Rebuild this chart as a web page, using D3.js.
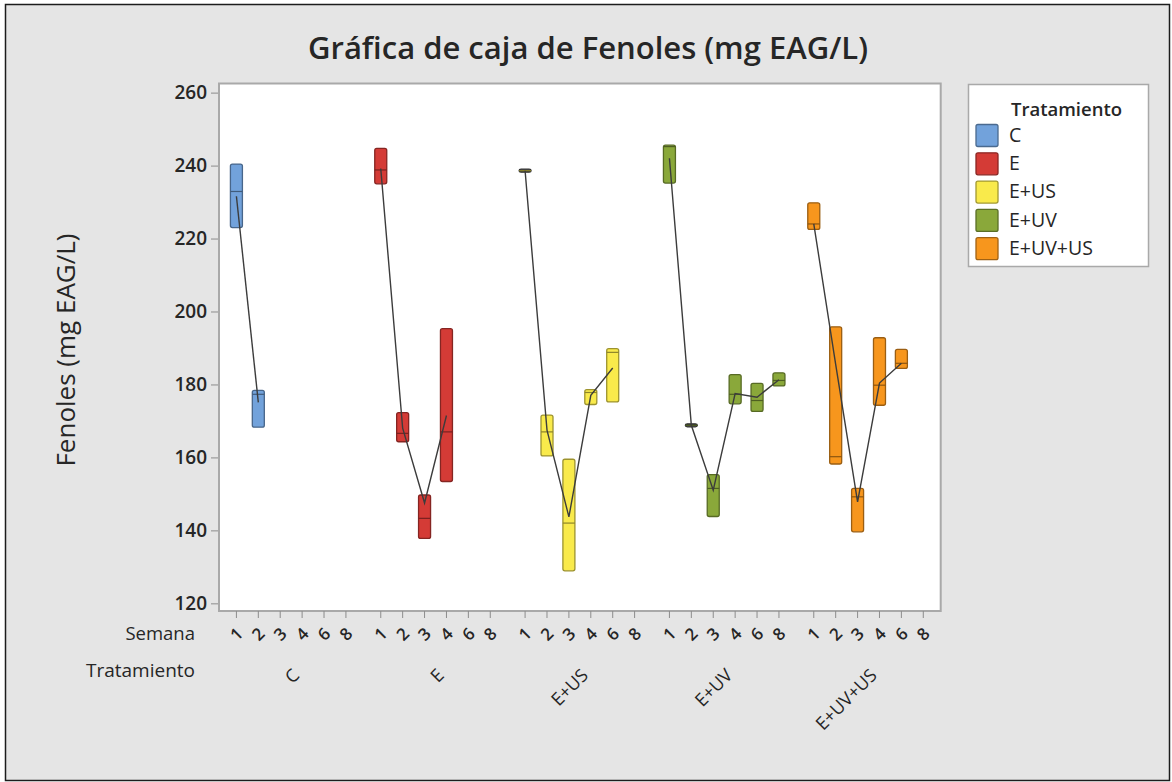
<!DOCTYPE html>
<html>
<head>
<meta charset="utf-8">
<script src="https://cdn.jsdelivr.net/npm/d3@7"></script>
<style>
    body { margin: 0; background: #fff; }
    svg text { font-family: "Open Sans", "Noto Sans", sans-serif; fill: #262626; }
</style>
</head>
<body>
<svg id="chart" width="1172" height="782"></svg>
<script>
// categories
var treatments = ['C', 'E', 'E+US', 'E+UV', 'E+UV+US'];
var weeks = ['1', '2', '3', '4', '6', '8'];
var colors = ['#72a2db', '#d43b36', '#f9ea4b', '#8aa83a', '#f7961d'];
var yTicks = [120, 140, 160, 180, 200, 220, 240, 260];

// box values per treatment, one entry per week (null = no data)
var q1 = [
    [223.0, 168.3, null, null, null, null],
    [235.0, 164.3, 137.8, 153.4, null, null],
    [238.6, 160.4, 128.9, 174.5, 175.2, null],
    [235.2, 168.8, 143.8, 174.7, 172.6, 179.6],
    [222.5, 158.2, 139.6, 174.3, 184.4, null]
];
var medians = [
    [232.9, 177.3, null, null, null, null],
    [238.8, 166.6, 143.3, 167.0, null, null],
    [238.6, 167.0, 142.0, 177.8, 188.8, null],
    [245.2, 168.8, 151.5, 177.3, 175.6, 181.1],
    [224.0, 160.2, 149.2, 179.8, 185.8, null]
];
var q3 = [
    [240.4, 178.4, null, null, null, null],
    [244.7, 172.3, 149.7, 195.3, null, null],
    [238.6, 171.6, 159.5, 178.6, 189.8, null],
    [245.6, 168.8, 155.3, 182.7, 180.3, 183.2],
    [229.8, 195.8, 151.5, 192.8, 189.6, null]
];
var means = [
    [231.6, 175.1, null, null, null, null],
    [239.2, 168.0, 147.5, 171.5, null, null],
    [238.6, 167.5, 143.7, 177.0, 184.5, null],
    [242.0, 168.8, 151.0, 177.5, 176.5, 181.3],
    [224.0, 185.5, 147.8, 180.4, 185.8, null]
];

/** Minitab style grouped box plot */
class BoxChart {
    constructor() {
        this.svg = d3.select('#chart');
        this.plot = {left: 219, top: 83.5, right: 940.7, bottom: 611};
        this.xGroup = d3.scaleBand().domain(treatments)
            .range([this.plot.left, this.plot.right]).padding(0);
        this.xWeek = d3.scalePoint().domain(weeks)
            .range([0, this.xGroup.bandwidth()]).padding(0.795);
        this.y = d3.scaleLinear().domain([117.9, 262.5])
            .range([this.plot.bottom, this.plot.top]);
        this.boxWidth = 12;
    }

    x(t, w) {
        return this.xGroup(t) + this.xWeek(w);
    }

    drawFrame() {
        this.svg.append('rect')
            .attr('x', 5.5).attr('y', 4.5)
            .attr('width', 1164).attr('height', 776)
            .style('fill', '#e5e5e5')
            .style('stroke', '#1c1c1c').style('stroke-width', 1.5);
        this.svg.append('rect')
            .attr('x', this.plot.left).attr('y', this.plot.top)
            .attr('width', this.plot.right - this.plot.left)
            .attr('height', this.plot.bottom - this.plot.top)
            .style('fill', '#fff')
            .style('stroke', '#a9a9a9').style('stroke-width', 2);
        this.svg.append('text')
            .attr('x', 588).attr('y', 59)
            .attr('text-anchor', 'middle')
            .style('font-size', '31px').style('font-weight', 600)
            .text('Gráfica de caja de Fenoles (mg EAG/L)');
    }

    drawAxes() {
        var self = this;
        var yAxis = d3.axisLeft(this.y).tickValues(yTicks).tickSize(7).tickPadding(4);
        var g = this.svg.append('g')
            .attr('transform', 'translate(' + (this.plot.left - 1) + ',0)')
            .call(yAxis);
        g.select('.domain').remove();
        g.selectAll('line').style('stroke', '#8c8c8c');
        g.selectAll('text').style('font-size', '19px').style('font-weight', 600)
            .style('fill', '#262626').style('font-family', '"Open Sans", sans-serif');

        this.svg.append('text')
            .attr('transform', 'translate(75,350) rotate(-90)')
            .attr('text-anchor', 'middle')
            .style('font-size', '26px')
            .text('Fenoles (mg EAG/L)');

        // week ticks and labels under every group
        var xg = this.svg.append('g');
        treatments.forEach(function(t) {
            weeks.forEach(function(w) {
                var px = self.x(t, w);
                xg.append('line')
                    .attr('x1', px).attr('x2', px)
                    .attr('y1', self.plot.bottom).attr('y2', self.plot.bottom + 7)
                    .style('stroke', '#8c8c8c');
                xg.append('text')
                    .attr('transform', 'translate(' + px + ',634) rotate(-45)')
                    .attr('text-anchor', 'middle')
                    .attr('dy', '0.35em')
                    .style('font-size', '17px').style('font-weight', 600)
                    .text(w);
            });
            xg.append('text')
                .attr('transform', 'translate(' + (self.xGroup(t) + self.xGroup.bandwidth() / 2 + 5) + ',672) rotate(-45)')
                .attr('text-anchor', 'end')
                .attr('dy', '0.35em')
                .style('font-size', '18px')
                .text(t);
        });
        xg.append('text').attr('x', 195).attr('y', 634).attr('dy', '0.35em')
            .attr('text-anchor', 'end').style('font-size', '18.5px').text('Semana');
        xg.append('text').attr('x', 195).attr('y', 670).attr('dy', '0.35em')
            .attr('text-anchor', 'end').style('font-size', '19px').text('Tratamiento');
    }

    drawBoxes() {
        var self = this;
        var rows = [];
        treatments.forEach(function(t, i) {
            weeks.forEach(function(w, j) {
                if (q1[i][j] != null) {
                    rows.push({t: t, w: w, color: colors[i],
                        q1: q1[i][j], med: medians[i][j], q3: q3[i][j], mean: means[i][j]});
                }
            });
        });

        var boxes = this.svg.append('g').selectAll('g.box')
            .data(rows)
            .enter()
            .append('g')
            .classed('box', true);
        boxes.append('rect')
            .attr('x', function(d) { return self.x(d.t, d.w) - self.boxWidth / 2; })
            .attr('y', function(d) { return self.y(d.q3) - (d.q3 == d.q1 ? 1.5 : 0); })
            .attr('width', self.boxWidth)
            .attr('height', function(d) { return Math.max(3, self.y(d.q1) - self.y(d.q3)); })
            .attr('rx', 2)
            .style('fill', function(d) { return d.q3 == d.q1 ? '#3a3a3a' : d.color; })
            .style('stroke', function(d) { return d.q3 == d.q1 ? '#333' : d3.color(d.color).darker(1.3); })
            .style('stroke-width', 1.3);
        boxes.append('line')
            .attr('x1', function(d) { return self.x(d.t, d.w) - self.boxWidth / 2; })
            .attr('x2', function(d) { return self.x(d.t, d.w) + self.boxWidth / 2; })
            .attr('y1', function(d) { return self.y(d.med); })
            .attr('y2', function(d) { return self.y(d.med); })
            .style('stroke', function(d) { return d3.color(d.color).darker(1.6); })
            .style('stroke-width', 1.2);

        // mean connect line per treatment
        var line = d3.line()
            .x(function(d) { return self.x(d.t, d.w); })
            .y(function(d) { return self.y(d.mean); });
        treatments.forEach(function(t) {
            var pts = rows.filter(function(d) { return d.t == t; });
            self.svg.append('path')
                .attr('d', line(pts))
                .style('fill', 'none')
                .style('stroke', '#3c3c3c')
                .style('stroke-width', 1.4);
        });
    }

    drawLegend() {
        var lg = this.svg.append('g');
        lg.append('rect')
            .attr('x', 968.5).attr('y', 84.5)
            .attr('width', 180).attr('height', 182)
            .style('fill', '#fff')
            .style('stroke', '#a9a9a9').style('stroke-width', 1.5);
        lg.append('text').attr('x', 1011).attr('y', 110).attr('dy', '0.35em')
            .style('font-size', '18.5px').style('font-weight', 600)
            .text('Tratamiento');
        var items = lg.selectAll('g.item')
            .data(treatments)
            .enter()
            .append('g')
            .classed('item', true)
            .attr('transform', function(d, i) { return 'translate(0,' + (135 + i * 28.3) + ')'; });
        items.append('rect')
            .attr('x', 976).attr('y', -10.5)
            .attr('width', 22).attr('height', 22)
            .attr('rx', 2)
            .style('fill', function(d, i) { return colors[i]; })
            .style('stroke', function(d, i) { return d3.color(colors[i]).darker(1.2); })
            .style('stroke-width', 1.3);
        items.append('text')
            .attr('x', 1009).attr('dy', '0.35em')
            .style('font-size', '19.5px')
            .text(function(d) { return d; });
    }
}

var chart = new BoxChart();
chart.drawFrame();
chart.drawAxes();
chart.drawBoxes();
chart.drawLegend();
</script>
</body>
</html>
